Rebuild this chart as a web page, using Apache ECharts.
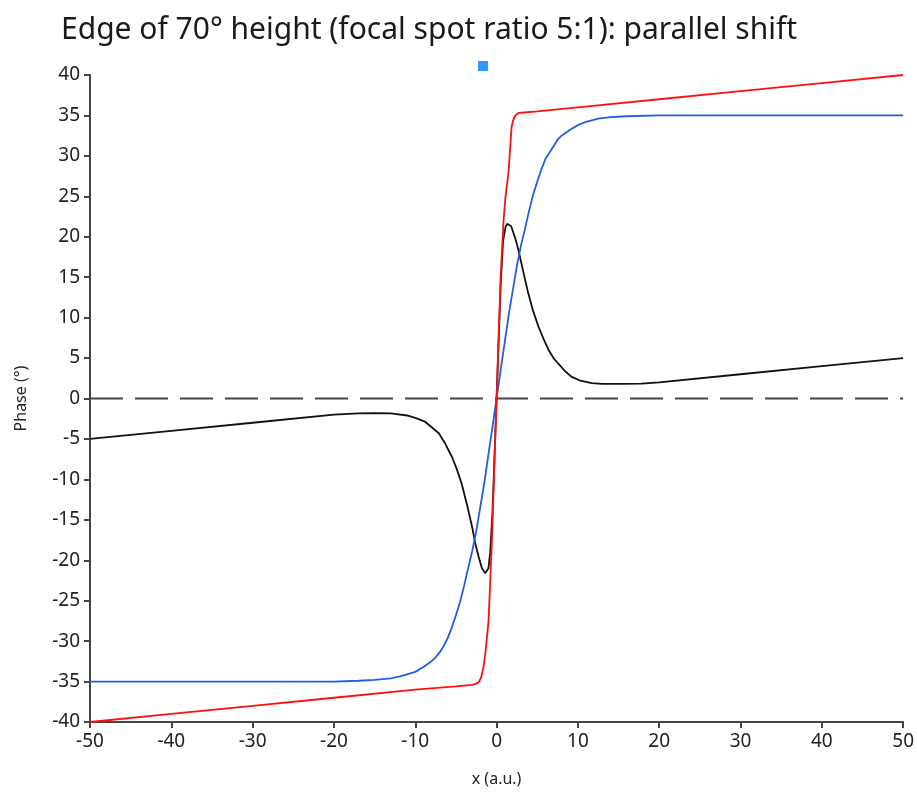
<!DOCTYPE html>
<html>
<head>
<meta charset="utf-8">
<title>Edge of 70° height: parallel shift</title>
<script src="https://cdn.jsdelivr.net/npm/echarts@6/dist/echarts.min.js"></script>
<style>
    html, body { margin: 0; padding: 0; background: #fff; }
    #chart { width: 917px; height: 795px; }
</style>
</head>
<body>
<div id="chart"></div>
<script>
// 曲线数据 (x, phase) —— 近似值
var redLine = [
    [-50, -40], [-40, -39], [-30, -38], [-20, -37], [-10, -36], [-5, -35.6],
    [-3, -35.4], [-2.6, -35.3], [-2.2, -35.1], [-1.9, -34.5], [-1.6, -33.2],
    [-1.3, -30.8], [-0.98, -27.4], [-0.77, -22.4], [-0.55, -17], [-0.37, -11.3],
    [-0.18, -5.5], [0, 0], [0.2, 6], [0.5, 15], [0.86, 22], [1.1, 25],
    [1.47, 28], [1.84, 33.5], [2.0, 34.3], [2.2, 34.8], [2.4, 35.1], [2.7, 35.3],
    [5, 35.5], [10, 36], [20, 37], [30, 38], [40, 39], [50, 40]
];

var blueLine = [
    [-50, -35], [-30, -35], [-20, -35], [-17, -34.9], [-15, -34.8], [-13, -34.6],
    [-12, -34.4], [-11, -34.1], [-10, -33.8], [-9, -33.2], [-8, -32.5], [-7.5, -32],
    [-7, -31.4], [-6.5, -30.6], [-6, -29.6], [-5.5, -28.3], [-5, -26.8], [-4.5, -25.2],
    [-4, -23.2], [-3.5, -21], [-3, -18.9], [-2.5, -16.4], [-2, -13.4], [-1.5, -10.4],
    [-1, -6.9], [-0.5, -3.5], [0, 0], [0.5, 3.5], [1, 6.9], [1.5, 10.4], [2, 13.4],
    [2.5, 16.4], [3, 18.9], [3.5, 21], [4, 23.2], [4.5, 25.2], [5, 26.8], [5.5, 28.3],
    [6, 29.6], [6.7, 30.7], [7.5, 32], [8, 32.5], [9, 33.2], [10, 33.8], [11, 34.2],
    [12.5, 34.6], [14, 34.8], [16, 34.9], [20, 35], [30, 35], [50, 35]
];

var blackLine = [
    [-50, -5], [-40, -4], [-30, -3], [-20, -2], [-17, -1.85], [-15, -1.8], [-13, -1.85],
    [-11, -2.1], [-10, -2.4], [-8.75, -2.9], [-7.1, -4.3], [-6.3, -5.6], [-5.5, -7.2],
    [-4.9, -8.7], [-4.3, -10.5], [-3.6, -13.3], [-3, -15.9], [-2.6, -18], [-2.2, -19.6],
    [-1.8, -21], [-1.4, -21.6], [-1.2, -21.5], [-1, -21], [-0.78, -19], [-0.5, -14],
    [-0.25, -7], [0, 0], [0.25, 7], [0.5, 14], [0.8, 19.5], [1.1, 21.2], [1.3, 21.6],
    [1.5, 21.7], [1.8, 21.3], [2.3, 19.8], [2.7, 18.3], [3.3, 15.6], [3.9, 13],
    [4.5, 10.8], [5.15, 8.9], [5.8, 7.3], [6.4, 6], [7, 5], [7.6, 4.3], [8.4, 3.4],
    [9.2, 2.7], [10.3, 2.2], [11.7, 1.9], [13, 1.8], [15, 1.8], [17.8, 1.85],
    [20, 2], [30, 3], [40, 4], [50, 5]
];

var zeroLine = [[-50, 0], [50, 0]];

var font = 'Noto Sans';
var chart = echarts.init(document.getElementById('chart'));
var option = {
    animation: false,
    textStyle: { fontFamily: font },
    title: {
        text: 'Edge of 70° height (focal spot ratio 5:1): parallel shift',
        left: 56,
        top: 10,
        textStyle: { fontFamily: font, fontSize: 30, fontWeight: 'normal', color: '#1a1a1a' }
    },
    legend: {
        data: [{ name: 'zero', icon: 'rect', itemStyle: { color: '#3399ff' } }],
        left: 473,
        top: 56,
        itemWidth: 10,
        itemHeight: 10,
        selectedMode: false,
        formatter: function () { return ''; }
    },
    grid: { left: 90, right: 11, top: 75, bottom: 73 },
    xAxis: {
        type: 'value',
        min: -50,
        max: 50,
        interval: 10,
        name: 'x (a.u.)',
        nameLocation: 'middle',
        nameGap: 49,
        nameTextStyle: { fontSize: 16, color: '#222' },
        axisLine: { onZero: false, lineStyle: { color: '#444', width: 2 } },
        axisTick: { length: 6, lineStyle: { color: '#444', width: 2 } },
        axisLabel: { fontSize: 19, color: '#222', margin: 10 },
        splitLine: { show: false }
    },
    yAxis: {
        type: 'value',
        min: -40,
        max: 40,
        interval: 5,
        name: 'Phase (°)',
        nameLocation: 'middle',
        nameGap: 61,
        nameTextStyle: { fontSize: 16, color: '#222' },
        axisLine: { show: true, onZero: false, lineStyle: { color: '#444', width: 2 } },
        axisTick: { show: true, length: 6, lineStyle: { color: '#444', width: 2 } },
        axisLabel: { fontSize: 19, color: '#222', margin: 10 },
        splitLine: { show: false }
    },
    series: [
        {
            name: 'zero',
            type: 'line',
            data: zeroLine,
            showSymbol: false,
            lineStyle: { color: '#444', width: 2, type: [33, 12] },
            itemStyle: { color: '#3399ff' }
        },
        {
            name: 'black',
            type: 'line',
            data: blackLine,
            showSymbol: false,
            lineStyle: { color: '#111', width: 1.8 }
        },
        {
            name: 'blue',
            type: 'line',
            data: blueLine,
            showSymbol: false,
            lineStyle: { color: '#1f5fe0', width: 1.8 }
        },
        {
            name: 'red',
            type: 'line',
            data: redLine,
            showSymbol: false,
            lineStyle: { color: '#ff1010', width: 1.8 }
        }
    ]
};
chart.setOption(option);
</script>
</body>
</html>
